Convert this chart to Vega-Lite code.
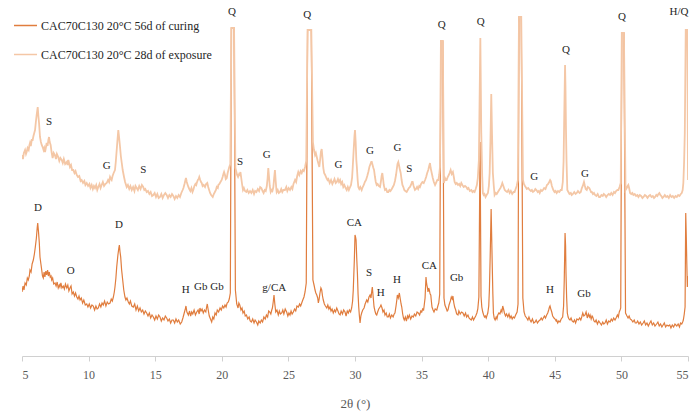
{
"$schema":"https://vega.github.io/schema/vega-lite/v6.json",
"width":666,"height":346,
"autosize":"none",
"padding":{"left":22,"top":10,"right":7,"bottom":58},
"background":"white",
"config":{"view":{"stroke":null},"font":"Liberation Serif"},
"datasets":{
"curing":[
{"theta":5.00,"intensity":64},{"theta":5.08,"intensity":70},{"theta":5.15,"intensity":66},{"theta":5.23,"intensity":73},{"theta":5.32,"intensity":71},{"theta":5.40,"intensity":78},{"theta":5.47,"intensity":76},{"theta":5.55,"intensity":80},{"theta":5.60,"intensity":86},{"theta":5.68,"intensity":84},{"theta":5.76,"intensity":92},{"theta":5.85,"intensity":96},{"theta":5.93,"intensity":102},{"theta":6.00,"intensity":109},{"theta":6.08,"intensity":118},{"theta":6.14,"intensity":128},{"theta":6.18,"intensity":133},{"theta":6.24,"intensity":124},{"theta":6.30,"intensity":113},{"theta":6.35,"intensity":99},{"theta":6.42,"intensity":92},{"theta":6.48,"intensity":86},{"theta":6.54,"intensity":80},{"theta":6.60,"intensity":78},{"theta":6.66,"intensity":84},{"theta":6.72,"intensity":79},{"theta":6.79,"intensity":85},{"theta":6.85,"intensity":81},{"theta":6.92,"intensity":86},{"theta":6.98,"intensity":80},{"theta":7.05,"intensity":84},{"theta":7.12,"intensity":79},{"theta":7.18,"intensity":80},{"theta":7.23,"intensity":76},{"theta":7.30,"intensity":78},{"theta":7.38,"intensity":72},{"theta":7.48,"intensity":73},{"theta":7.56,"intensity":70},{"theta":7.64,"intensity":74},{"theta":7.72,"intensity":68},{"theta":7.80,"intensity":71},{"theta":7.85,"intensity":69},{"theta":7.92,"intensity":73},{"theta":8.00,"intensity":68},{"theta":8.10,"intensity":70},{"theta":8.18,"intensity":67},{"theta":8.26,"intensity":72},{"theta":8.36,"intensity":68},{"theta":8.44,"intensity":71},{"theta":8.52,"intensity":65},{"theta":8.60,"intensity":68},{"theta":8.68,"intensity":70},{"theta":8.76,"intensity":62},{"theta":8.85,"intensity":64},{"theta":8.94,"intensity":60},{"theta":9.02,"intensity":63},{"theta":9.11,"intensity":59},{"theta":9.20,"intensity":57},{"theta":9.28,"intensity":60},{"theta":9.36,"intensity":56},{"theta":9.45,"intensity":58},{"theta":9.55,"intensity":53},{"theta":9.64,"intensity":56},{"theta":9.75,"intensity":51},{"theta":9.86,"intensity":52},{"theta":9.95,"intensity":49},{"theta":10.05,"intensity":52},{"theta":10.15,"intensity":48},{"theta":10.25,"intensity":51},{"theta":10.35,"intensity":50},{"theta":10.45,"intensity":46},{"theta":10.55,"intensity":50},{"theta":10.64,"intensity":47},{"theta":10.73,"intensity":48},{"theta":10.82,"intensity":52},{"theta":10.92,"intensity":49},{"theta":11.01,"intensity":53},{"theta":11.10,"intensity":51},{"theta":11.20,"intensity":55},{"theta":11.30,"intensity":50},{"theta":11.40,"intensity":54},{"theta":11.50,"intensity":52},{"theta":11.61,"intensity":53},{"theta":11.70,"intensity":57},{"theta":11.78,"intensity":55},{"theta":11.86,"intensity":59},{"theta":11.93,"intensity":64},{"theta":11.98,"intensity":69},{"theta":12.05,"intensity":78},{"theta":12.11,"intensity":89},{"theta":12.20,"intensity":101},{"theta":12.27,"intensity":108},{"theta":12.31,"intensity":111},{"theta":12.36,"intensity":104},{"theta":12.41,"intensity":99},{"theta":12.48,"intensity":86},{"theta":12.56,"intensity":76},{"theta":12.64,"intensity":66},{"theta":12.73,"intensity":59},{"theta":12.80,"intensity":56},{"theta":12.88,"intensity":58},{"theta":12.98,"intensity":54},{"theta":13.06,"intensity":52},{"theta":13.14,"intensity":55},{"theta":13.24,"intensity":50},{"theta":13.36,"intensity":49},{"theta":13.46,"intensity":52},{"theta":13.56,"intensity":46},{"theta":13.66,"intensity":50},{"theta":13.76,"intensity":45},{"theta":13.86,"intensity":48},{"theta":13.96,"intensity":44},{"theta":14.06,"intensity":46},{"theta":14.16,"intensity":42},{"theta":14.26,"intensity":45},{"theta":14.36,"intensity":43},{"theta":14.46,"intensity":40},{"theta":14.56,"intensity":43},{"theta":14.66,"intensity":38},{"theta":14.76,"intensity":41},{"theta":14.86,"intensity":39},{"theta":14.96,"intensity":36},{"theta":15.06,"intensity":40},{"theta":15.16,"intensity":37},{"theta":15.26,"intensity":41},{"theta":15.36,"intensity":39},{"theta":15.46,"intensity":35},{"theta":15.56,"intensity":38},{"theta":15.66,"intensity":36},{"theta":15.76,"intensity":40},{"theta":15.86,"intensity":38},{"theta":15.96,"intensity":35},{"theta":16.06,"intensity":37},{"theta":16.16,"intensity":33},{"theta":16.26,"intensity":36},{"theta":16.36,"intensity":36},{"theta":16.46,"intensity":33},{"theta":16.56,"intensity":37},{"theta":16.66,"intensity":34},{"theta":16.76,"intensity":36},{"theta":16.88,"intensity":32},{"theta":16.99,"intensity":34},{"theta":17.08,"intensity":38},{"theta":17.18,"intensity":43},{"theta":17.26,"intensity":47},{"theta":17.31,"intensity":50},{"theta":17.38,"intensity":44},{"theta":17.49,"intensity":41},{"theta":17.58,"intensity":45},{"theta":17.66,"intensity":40},{"theta":17.74,"intensity":44},{"theta":17.82,"intensity":42},{"theta":17.92,"intensity":46},{"theta":18.02,"intensity":41},{"theta":18.12,"intensity":44},{"theta":18.22,"intensity":46},{"theta":18.30,"intensity":42},{"theta":18.36,"intensity":48},{"theta":18.44,"intensity":45},{"theta":18.52,"intensity":47},{"theta":18.61,"intensity":43},{"theta":18.70,"intensity":46},{"theta":18.80,"intensity":44},{"theta":18.86,"intensity":49},{"theta":18.91,"intensity":52},{"theta":18.98,"intensity":46},{"theta":19.06,"intensity":40},{"theta":19.15,"intensity":37},{"theta":19.24,"intensity":34},{"theta":19.32,"intensity":39},{"theta":19.40,"intensity":37},{"theta":19.49,"intensity":43},{"theta":19.58,"intensity":41},{"theta":19.66,"intensity":46},{"theta":19.76,"intensity":44},{"theta":19.87,"intensity":48},{"theta":19.96,"intensity":46},{"theta":20.06,"intensity":50},{"theta":20.15,"intensity":48},{"theta":20.24,"intensity":51},{"theta":20.32,"intensity":49},{"theta":20.40,"intensity":53},{"theta":20.49,"intensity":54},{"theta":20.56,"intensity":57},{"theta":20.64,"intensity":63},{"theta":20.72,"intensity":328},{"theta":20.92,"intensity":328},{"theta":21.02,"intensity":66},{"theta":21.12,"intensity":52},{"theta":21.22,"intensity":48},{"theta":21.28,"intensity":53},{"theta":21.35,"intensity":51},{"theta":21.44,"intensity":46},{"theta":21.52,"intensity":48},{"theta":21.59,"intensity":43},{"theta":21.68,"intensity":45},{"theta":21.76,"intensity":40},{"theta":21.85,"intensity":41},{"theta":21.95,"intensity":37},{"theta":22.05,"intensity":39},{"theta":22.13,"intensity":35},{"theta":22.22,"intensity":34},{"theta":22.32,"intensity":37},{"theta":22.42,"intensity":33},{"theta":22.50,"intensity":36},{"theta":22.60,"intensity":34},{"theta":22.70,"intensity":31},{"theta":22.78,"intensity":35},{"theta":22.88,"intensity":33},{"theta":22.97,"intensity":36},{"theta":23.06,"intensity":34},{"theta":23.16,"intensity":39},{"theta":23.26,"intensity":37},{"theta":23.35,"intensity":41},{"theta":23.44,"intensity":39},{"theta":23.52,"intensity":45},{"theta":23.60,"intensity":44},{"theta":23.68,"intensity":42},{"theta":23.75,"intensity":46},{"theta":23.80,"intensity":48},{"theta":23.86,"intensity":54},{"theta":23.92,"intensity":61},{"theta":23.98,"intensity":52},{"theta":24.05,"intensity":44},{"theta":24.14,"intensity":46},{"theta":24.24,"intensity":41},{"theta":24.32,"intensity":45},{"theta":24.40,"intensity":42},{"theta":24.50,"intensity":43},{"theta":24.58,"intensity":46},{"theta":24.66,"intensity":42},{"theta":24.76,"intensity":47},{"theta":24.87,"intensity":44},{"theta":24.96,"intensity":40},{"theta":25.04,"intensity":43},{"theta":25.12,"intensity":41},{"theta":25.20,"intensity":45},{"theta":25.28,"intensity":42},{"theta":25.37,"intensity":44},{"theta":25.46,"intensity":47},{"theta":25.55,"intensity":45},{"theta":25.64,"intensity":50},{"theta":25.75,"intensity":49},{"theta":25.84,"intensity":52},{"theta":25.92,"intensity":50},{"theta":26.00,"intensity":53},{"theta":26.08,"intensity":56},{"theta":26.17,"intensity":59},{"theta":26.25,"intensity":64},{"theta":26.34,"intensity":73},{"theta":26.44,"intensity":326},{"theta":26.72,"intensity":326},{"theta":26.84,"intensity":76},{"theta":26.94,"intensity":70},{"theta":27.00,"intensity":66},{"theta":27.06,"intensity":63},{"theta":27.13,"intensity":61},{"theta":27.20,"intensity":58},{"theta":27.25,"intensity":53},{"theta":27.31,"intensity":57},{"theta":27.37,"intensity":63},{"theta":27.44,"intensity":68},{"theta":27.50,"intensity":66},{"theta":27.56,"intensity":60},{"theta":27.62,"intensity":56},{"theta":27.70,"intensity":52},{"theta":27.78,"intensity":50},{"theta":27.88,"intensity":48},{"theta":27.96,"intensity":51},{"theta":28.04,"intensity":47},{"theta":28.12,"intensity":49},{"theta":28.20,"intensity":45},{"theta":28.28,"intensity":47},{"theta":28.37,"intensity":43},{"theta":28.46,"intensity":46},{"theta":28.54,"intensity":44},{"theta":28.63,"intensity":48},{"theta":28.72,"intensity":45},{"theta":28.80,"intensity":42},{"theta":28.88,"intensity":41},{"theta":28.96,"intensity":45},{"theta":29.06,"intensity":42},{"theta":29.15,"intensity":46},{"theta":29.25,"intensity":44},{"theta":29.33,"intensity":40},{"theta":29.42,"intensity":45},{"theta":29.50,"intensity":43},{"theta":29.58,"intensity":46},{"theta":29.67,"intensity":44},{"theta":29.75,"intensity":48},{"theta":29.82,"intensity":55},{"theta":29.87,"intensity":66},{"theta":29.95,"intensity":96},{"theta":30.00,"intensity":121},{"theta":30.04,"intensity":119},{"theta":30.08,"intensity":116},{"theta":30.13,"intensity":98},{"theta":30.18,"intensity":83},{"theta":30.23,"intensity":62},{"theta":30.28,"intensity":49},{"theta":30.33,"intensity":40},{"theta":30.38,"intensity":33},{"theta":30.44,"intensity":40},{"theta":30.50,"intensity":43},{"theta":30.58,"intensity":46},{"theta":30.68,"intensity":48},{"theta":30.76,"intensity":52},{"theta":30.88,"intensity":56},{"theta":30.96,"intensity":54},{"theta":31.05,"intensity":59},{"theta":31.13,"intensity":61},{"theta":31.20,"intensity":58},{"theta":31.26,"intensity":65},{"theta":31.30,"intensity":69},{"theta":31.36,"intensity":60},{"theta":31.43,"intensity":49},{"theta":31.50,"intensity":45},{"theta":31.56,"intensity":42},{"theta":31.63,"intensity":41},{"theta":31.70,"intensity":44},{"theta":31.78,"intensity":47},{"theta":31.88,"intensity":49},{"theta":31.95,"intensity":51},{"theta":32.03,"intensity":48},{"theta":32.10,"intensity":44},{"theta":32.18,"intensity":46},{"theta":32.25,"intensity":41},{"theta":32.34,"intensity":43},{"theta":32.42,"intensity":39},{"theta":32.50,"intensity":39},{"theta":32.58,"intensity":42},{"theta":32.66,"intensity":38},{"theta":32.76,"intensity":41},{"theta":32.86,"intensity":39},{"theta":32.94,"intensity":42},{"theta":33.00,"intensity":43},{"theta":33.08,"intensity":50},{"theta":33.14,"intensity":56},{"theta":33.18,"intensity":61},{"theta":33.25,"intensity":58},{"theta":33.33,"intensity":63},{"theta":33.40,"intensity":57},{"theta":33.46,"intensity":52},{"theta":33.51,"intensity":49},{"theta":33.58,"intensity":42},{"theta":33.64,"intensity":38},{"theta":33.70,"intensity":36},{"theta":33.78,"intensity":39},{"theta":33.86,"intensity":35},{"theta":33.94,"intensity":40},{"theta":34.00,"intensity":38},{"theta":34.08,"intensity":41},{"theta":34.18,"intensity":37},{"theta":34.28,"intensity":40},{"theta":34.38,"intensity":39},{"theta":34.46,"intensity":42},{"theta":34.56,"intensity":40},{"theta":34.66,"intensity":44},{"theta":34.75,"intensity":43},{"theta":34.85,"intensity":41},{"theta":34.94,"intensity":45},{"theta":35.01,"intensity":44},{"theta":35.08,"intensity":47},{"theta":35.15,"intensity":46},{"theta":35.18,"intensity":49},{"theta":35.26,"intensity":58},{"theta":35.33,"intensity":79},{"theta":35.38,"intensity":72},{"theta":35.43,"intensity":69},{"theta":35.48,"intensity":64},{"theta":35.53,"intensity":68},{"theta":35.58,"intensity":66},{"theta":35.64,"intensity":62},{"theta":35.69,"intensity":61},{"theta":35.74,"intensity":54},{"theta":35.78,"intensity":49},{"theta":35.86,"intensity":46},{"theta":35.93,"intensity":44},{"theta":36.02,"intensity":47},{"theta":36.14,"intensity":46},{"theta":36.22,"intensity":50},{"theta":36.29,"intensity":53},{"theta":36.36,"intensity":62},{"theta":36.45,"intensity":315},{"theta":36.59,"intensity":315},{"theta":36.68,"intensity":58},{"theta":36.75,"intensity":51},{"theta":36.84,"intensity":48},{"theta":36.92,"intensity":45},{"theta":36.98,"intensity":46},{"theta":37.06,"intensity":51},{"theta":37.16,"intensity":55},{"theta":37.23,"intensity":59},{"theta":37.30,"intensity":57},{"theta":37.35,"intensity":60},{"theta":37.42,"intensity":53},{"theta":37.48,"intensity":49},{"theta":37.56,"intensity":46},{"theta":37.63,"intensity":42},{"theta":37.73,"intensity":41},{"theta":37.80,"intensity":45},{"theta":37.90,"intensity":42},{"theta":38.00,"intensity":44},{"theta":38.10,"intensity":43},{"theta":38.20,"intensity":40},{"theta":38.30,"intensity":43},{"theta":38.38,"intensity":39},{"theta":38.48,"intensity":41},{"theta":38.56,"intensity":38},{"theta":38.64,"intensity":37},{"theta":38.73,"intensity":36},{"theta":38.82,"intensity":39},{"theta":38.90,"intensity":36},{"theta":38.98,"intensity":38},{"theta":39.06,"intensity":40},{"theta":39.15,"intensity":43},{"theta":39.22,"intensity":47},{"theta":39.30,"intensity":59},{"theta":39.39,"intensity":214},{"theta":39.46,"intensity":60},{"theta":39.52,"intensity":49},{"theta":39.59,"intensity":44},{"theta":39.66,"intensity":41},{"theta":39.72,"intensity":39},{"theta":39.78,"intensity":40},{"theta":39.85,"intensity":38},{"theta":39.92,"intensity":41},{"theta":39.97,"intensity":43},{"theta":40.04,"intensity":50},{"theta":40.09,"intensity":66},{"theta":40.15,"intensity":100},{"theta":40.22,"intensity":147},{"theta":40.26,"intensity":120},{"theta":40.30,"intensity":93},{"theta":40.35,"intensity":62},{"theta":40.39,"intensity":43},{"theta":40.45,"intensity":38},{"theta":40.52,"intensity":36},{"theta":40.60,"intensity":39},{"theta":40.66,"intensity":37},{"theta":40.72,"intensity":41},{"theta":40.80,"intensity":43},{"theta":40.88,"intensity":42},{"theta":40.97,"intensity":46},{"theta":41.03,"intensity":44},{"theta":41.09,"intensity":50},{"theta":41.15,"intensity":47},{"theta":41.22,"intensity":43},{"theta":41.30,"intensity":40},{"theta":41.38,"intensity":42},{"theta":41.47,"intensity":39},{"theta":41.56,"intensity":42},{"theta":41.64,"intensity":38},{"theta":41.72,"intensity":40},{"theta":41.80,"intensity":37},{"theta":41.88,"intensity":39},{"theta":41.97,"intensity":38},{"theta":42.06,"intensity":41},{"theta":42.17,"intensity":44},{"theta":42.24,"intensity":52},{"theta":42.31,"intensity":339},{"theta":42.48,"intensity":339},{"theta":42.60,"intensity":58},{"theta":42.69,"intensity":44},{"theta":42.78,"intensity":40},{"theta":42.89,"intensity":38},{"theta":42.98,"intensity":36},{"theta":43.06,"intensity":39},{"theta":43.14,"intensity":36},{"theta":43.22,"intensity":34},{"theta":43.32,"intensity":37},{"theta":43.42,"intensity":33},{"theta":43.52,"intensity":34},{"theta":43.60,"intensity":36},{"theta":43.70,"intensity":33},{"theta":43.80,"intensity":35},{"theta":43.89,"intensity":36},{"theta":43.98,"intensity":38},{"theta":44.06,"intensity":36},{"theta":44.14,"intensity":38},{"theta":44.22,"intensity":40},{"theta":44.30,"intensity":38},{"theta":44.39,"intensity":41},{"theta":44.47,"intensity":43},{"theta":44.54,"intensity":46},{"theta":44.60,"intensity":49},{"theta":44.64,"intensity":50},{"theta":44.70,"intensity":47},{"theta":44.77,"intensity":44},{"theta":44.84,"intensity":40},{"theta":44.94,"intensity":38},{"theta":45.02,"intensity":37},{"theta":45.10,"intensity":35},{"theta":45.14,"intensity":36},{"theta":45.22,"intensity":33},{"theta":45.30,"intensity":35},{"theta":45.39,"intensity":34},{"theta":45.48,"intensity":37},{"theta":45.59,"intensity":39},{"theta":45.66,"intensity":50},{"theta":45.71,"intensity":76},{"theta":45.77,"intensity":123},{"theta":45.81,"intensity":110},{"theta":45.84,"intensity":83},{"theta":45.89,"intensity":58},{"theta":45.94,"intensity":43},{"theta":46.00,"intensity":39},{"theta":46.06,"intensity":37},{"theta":46.14,"intensity":36},{"theta":46.22,"intensity":38},{"theta":46.30,"intensity":35},{"theta":46.39,"intensity":34},{"theta":46.48,"intensity":36},{"theta":46.56,"intensity":33},{"theta":46.66,"intensity":37},{"theta":46.77,"intensity":36},{"theta":46.86,"intensity":38},{"theta":46.95,"intensity":36},{"theta":47.02,"intensity":39},{"theta":47.10,"intensity":43},{"theta":47.18,"intensity":40},{"theta":47.27,"intensity":41},{"theta":47.35,"intensity":44},{"theta":47.44,"intensity":38},{"theta":47.52,"intensity":42},{"theta":47.60,"intensity":39},{"theta":47.65,"intensity":41},{"theta":47.73,"intensity":37},{"theta":47.80,"intensity":40},{"theta":47.85,"intensity":39},{"theta":47.94,"intensity":35},{"theta":48.02,"intensity":34},{"theta":48.10,"intensity":36},{"theta":48.20,"intensity":32},{"theta":48.30,"intensity":35},{"theta":48.40,"intensity":33},{"theta":48.50,"intensity":31},{"theta":48.60,"intensity":34},{"theta":48.68,"intensity":32},{"theta":48.77,"intensity":33},{"theta":48.86,"intensity":36},{"theta":48.95,"intensity":32},{"theta":49.05,"intensity":35},{"theta":49.15,"intensity":34},{"theta":49.24,"intensity":37},{"theta":49.33,"intensity":35},{"theta":49.42,"intensity":38},{"theta":49.52,"intensity":36},{"theta":49.60,"intensity":38},{"theta":49.70,"intensity":41},{"theta":49.77,"intensity":39},{"theta":49.84,"intensity":44},{"theta":49.90,"intensity":46},{"theta":49.95,"intensity":48},{"theta":50.03,"intensity":323},{"theta":50.19,"intensity":323},{"theta":50.31,"intensity":43},{"theta":50.42,"intensity":40},{"theta":50.50,"intensity":38},{"theta":50.58,"intensity":40},{"theta":50.66,"intensity":37},{"theta":50.76,"intensity":36},{"theta":50.86,"intensity":34},{"theta":50.96,"intensity":36},{"theta":51.04,"intensity":33},{"theta":51.13,"intensity":33},{"theta":51.22,"intensity":35},{"theta":51.32,"intensity":32},{"theta":51.42,"intensity":34},{"theta":51.52,"intensity":31},{"theta":51.63,"intensity":33},{"theta":51.72,"intensity":35},{"theta":51.82,"intensity":31},{"theta":51.92,"intensity":33},{"theta":52.02,"intensity":30},{"theta":52.13,"intensity":33},{"theta":52.22,"intensity":35},{"theta":52.32,"intensity":31},{"theta":52.42,"intensity":33},{"theta":52.52,"intensity":30},{"theta":52.64,"intensity":32},{"theta":52.74,"intensity":34},{"theta":52.84,"intensity":30},{"theta":52.94,"intensity":32},{"theta":53.04,"intensity":29},{"theta":53.13,"intensity":31},{"theta":53.22,"intensity":33},{"theta":53.32,"intensity":29},{"theta":53.42,"intensity":31},{"theta":53.52,"intensity":30},{"theta":53.63,"intensity":31},{"theta":53.72,"intensity":28},{"theta":53.82,"intensity":31},{"theta":53.92,"intensity":29},{"theta":54.02,"intensity":32},{"theta":54.16,"intensity":30},{"theta":54.26,"intensity":32},{"theta":54.36,"intensity":29},{"theta":54.44,"intensity":33},{"theta":54.53,"intensity":32},{"theta":54.60,"intensity":34},{"theta":54.65,"intensity":36},{"theta":54.72,"intensity":42},{"theta":54.78,"intensity":49},{"theta":54.83,"intensity":143},{"theta":54.87,"intensity":120},{"theta":54.91,"intensity":93},{"theta":54.95,"intensity":69},{"theta":55.00,"intensity":80}
],
"exposure":[
{"theta":5.00,"intensity":201},{"theta":5.07,"intensity":197},{"theta":5.14,"intensity":203},{"theta":5.23,"intensity":206},{"theta":5.30,"intensity":202},{"theta":5.35,"intensity":204},{"theta":5.42,"intensity":208},{"theta":5.50,"intensity":206},{"theta":5.56,"intensity":211},{"theta":5.60,"intensity":213},{"theta":5.66,"intensity":210},{"theta":5.73,"intensity":216},{"theta":5.80,"intensity":216},{"theta":5.86,"intensity":220},{"theta":5.92,"intensity":223},{"theta":5.98,"intensity":226},{"theta":6.04,"intensity":234},{"theta":6.10,"intensity":241},{"theta":6.15,"intensity":246},{"theta":6.18,"intensity":249},{"theta":6.23,"intensity":240},{"theta":6.28,"intensity":233},{"theta":6.35,"intensity":219},{"theta":6.42,"intensity":214},{"theta":6.48,"intensity":211},{"theta":6.55,"intensity":209},{"theta":6.62,"intensity":206},{"theta":6.67,"intensity":208},{"theta":6.73,"intensity":204},{"theta":6.80,"intensity":209},{"theta":6.85,"intensity":213},{"theta":6.92,"intensity":210},{"theta":6.98,"intensity":216},{"theta":7.03,"intensity":219},{"theta":7.08,"intensity":214},{"theta":7.15,"intensity":211},{"theta":7.22,"intensity":204},{"theta":7.30,"intensity":198},{"theta":7.38,"intensity":203},{"theta":7.47,"intensity":201},{"theta":7.55,"intensity":197},{"theta":7.62,"intensity":202},{"theta":7.72,"intensity":199},{"theta":7.80,"intensity":195},{"theta":7.88,"intensity":198},{"theta":7.98,"intensity":196},{"theta":8.06,"intensity":193},{"theta":8.14,"intensity":197},{"theta":8.24,"intensity":192},{"theta":8.36,"intensity":194},{"theta":8.42,"intensity":191},{"theta":8.48,"intensity":196},{"theta":8.55,"intensity":192},{"theta":8.60,"intensity":189},{"theta":8.68,"intensity":191},{"theta":8.76,"intensity":186},{"theta":8.85,"intensity":186},{"theta":8.94,"intensity":183},{"theta":9.02,"intensity":185},{"theta":9.11,"intensity":181},{"theta":9.20,"intensity":179},{"theta":9.30,"intensity":180},{"theta":9.40,"intensity":175},{"theta":9.48,"intensity":176},{"theta":9.58,"intensity":173},{"theta":9.68,"intensity":175},{"theta":9.76,"intensity":171},{"theta":9.86,"intensity":173},{"theta":9.96,"intensity":170},{"theta":10.06,"intensity":172},{"theta":10.14,"intensity":168},{"theta":10.23,"intensity":171},{"theta":10.32,"intensity":167},{"theta":10.40,"intensity":170},{"theta":10.48,"intensity":168},{"theta":10.57,"intensity":171},{"theta":10.65,"intensity":166},{"theta":10.73,"intensity":169},{"theta":10.82,"intensity":172},{"theta":10.90,"intensity":168},{"theta":10.98,"intensity":171},{"theta":11.07,"intensity":174},{"theta":11.16,"intensity":170},{"theta":11.26,"intensity":172},{"theta":11.36,"intensity":173},{"theta":11.46,"intensity":176},{"theta":11.54,"intensity":174},{"theta":11.61,"intensity":179},{"theta":11.68,"intensity":177},{"theta":11.73,"intensity":176},{"theta":11.80,"intensity":180},{"theta":11.88,"intensity":183},{"theta":11.98,"intensity":186},{"theta":12.04,"intensity":194},{"theta":12.11,"intensity":206},{"theta":12.18,"intensity":218},{"theta":12.23,"intensity":226},{"theta":12.28,"intensity":220},{"theta":12.36,"intensity":209},{"theta":12.42,"intensity":200},{"theta":12.49,"intensity":193},{"theta":12.56,"intensity":186},{"theta":12.66,"intensity":179},{"theta":12.74,"intensity":174},{"theta":12.86,"intensity":169},{"theta":12.95,"intensity":171},{"theta":13.05,"intensity":167},{"theta":13.14,"intensity":170},{"theta":13.24,"intensity":166},{"theta":13.34,"intensity":169},{"theta":13.44,"intensity":165},{"theta":13.52,"intensity":170},{"theta":13.61,"intensity":168},{"theta":13.70,"intensity":166},{"theta":13.80,"intensity":170},{"theta":13.90,"intensity":167},{"theta":14.00,"intensity":171},{"theta":14.10,"intensity":169},{"theta":14.18,"intensity":166},{"theta":14.26,"intensity":167},{"theta":14.36,"intensity":164},{"theta":14.46,"intensity":165},{"theta":14.56,"intensity":162},{"theta":14.66,"intensity":164},{"theta":14.76,"intensity":160},{"theta":14.86,"intensity":161},{"theta":14.96,"intensity":163},{"theta":15.06,"intensity":159},{"theta":15.16,"intensity":162},{"theta":15.26,"intensity":158},{"theta":15.36,"intensity":159},{"theta":15.46,"intensity":162},{"theta":15.56,"intensity":158},{"theta":15.66,"intensity":161},{"theta":15.76,"intensity":163},{"theta":15.86,"intensity":161},{"theta":15.96,"intensity":158},{"theta":16.06,"intensity":161},{"theta":16.16,"intensity":159},{"theta":16.26,"intensity":162},{"theta":16.36,"intensity":160},{"theta":16.46,"intensity":157},{"theta":16.56,"intensity":160},{"theta":16.66,"intensity":158},{"theta":16.76,"intensity":161},{"theta":16.86,"intensity":159},{"theta":16.96,"intensity":163},{"theta":17.06,"intensity":166},{"theta":17.12,"intensity":168},{"theta":17.20,"intensity":172},{"theta":17.27,"intensity":176},{"theta":17.31,"intensity":178},{"theta":17.37,"intensity":174},{"theta":17.44,"intensity":171},{"theta":17.49,"intensity":169},{"theta":17.56,"intensity":167},{"theta":17.64,"intensity":165},{"theta":17.72,"intensity":168},{"theta":17.80,"intensity":164},{"theta":17.86,"intensity":166},{"theta":17.94,"intensity":170},{"theta":18.02,"intensity":172},{"theta":18.08,"intensity":171},{"theta":18.12,"intensity":173},{"theta":18.20,"intensity":176},{"theta":18.26,"intensity":177},{"theta":18.31,"intensity":179},{"theta":18.38,"intensity":176},{"theta":18.44,"intensity":174},{"theta":18.49,"intensity":173},{"theta":18.56,"intensity":170},{"theta":18.64,"intensity":171},{"theta":18.74,"intensity":169},{"theta":18.82,"intensity":172},{"theta":18.91,"intensity":173},{"theta":18.98,"intensity":169},{"theta":19.05,"intensity":166},{"theta":19.12,"intensity":163},{"theta":19.20,"intensity":161},{"theta":19.26,"intensity":160},{"theta":19.32,"intensity":159},{"theta":19.40,"intensity":162},{"theta":19.48,"intensity":164},{"theta":19.56,"intensity":166},{"theta":19.62,"intensity":169},{"theta":19.70,"intensity":168},{"theta":19.74,"intensity":171},{"theta":19.82,"intensity":172},{"theta":19.90,"intensity":174},{"theta":19.99,"intensity":176},{"theta":20.06,"intensity":179},{"theta":20.12,"intensity":182},{"theta":20.17,"intensity":184},{"theta":20.24,"intensity":181},{"theta":20.30,"intensity":177},{"theta":20.37,"intensity":178},{"theta":20.44,"intensity":183},{"theta":20.50,"intensity":186},{"theta":20.56,"intensity":189},{"theta":20.64,"intensity":192},{"theta":20.72,"intensity":328},{"theta":20.92,"intensity":328},{"theta":21.02,"intensity":188},{"theta":21.15,"intensity":181},{"theta":21.22,"intensity":179},{"theta":21.30,"intensity":182},{"theta":21.36,"intensity":181},{"theta":21.40,"intensity":184},{"theta":21.46,"intensity":178},{"theta":21.52,"intensity":172},{"theta":21.59,"intensity":166},{"theta":21.66,"intensity":168},{"theta":21.74,"intensity":165},{"theta":21.84,"intensity":164},{"theta":21.92,"intensity":166},{"theta":22.02,"intensity":163},{"theta":22.12,"intensity":165},{"theta":22.22,"intensity":163},{"theta":22.32,"intensity":166},{"theta":22.42,"intensity":162},{"theta":22.50,"intensity":165},{"theta":22.60,"intensity":164},{"theta":22.70,"intensity":167},{"theta":22.80,"intensity":165},{"theta":22.88,"intensity":169},{"theta":22.97,"intensity":168},{"theta":23.06,"intensity":165},{"theta":23.14,"intensity":163},{"theta":23.22,"intensity":166},{"theta":23.30,"intensity":165},{"theta":23.38,"intensity":170},{"theta":23.44,"intensity":178},{"theta":23.49,"intensity":188},{"theta":23.54,"intensity":180},{"theta":23.60,"intensity":170},{"theta":23.67,"intensity":164},{"theta":23.74,"intensity":166},{"theta":23.80,"intensity":165},{"theta":23.87,"intensity":169},{"theta":23.93,"intensity":178},{"theta":23.99,"intensity":186},{"theta":24.04,"intensity":176},{"theta":24.10,"intensity":166},{"theta":24.12,"intensity":164},{"theta":24.20,"intensity":166},{"theta":24.28,"intensity":163},{"theta":24.37,"intensity":164},{"theta":24.46,"intensity":167},{"theta":24.54,"intensity":164},{"theta":24.62,"intensity":166},{"theta":24.74,"intensity":166},{"theta":24.84,"intensity":169},{"theta":24.92,"intensity":165},{"theta":25.02,"intensity":168},{"theta":25.12,"intensity":166},{"theta":25.22,"intensity":169},{"theta":25.30,"intensity":167},{"theta":25.38,"intensity":172},{"theta":25.50,"intensity":176},{"theta":25.58,"intensity":174},{"theta":25.66,"intensity":180},{"theta":25.74,"intensity":184},{"theta":25.82,"intensity":181},{"theta":25.92,"intensity":185},{"theta":26.00,"intensity":183},{"theta":26.08,"intensity":186},{"theta":26.16,"intensity":185},{"theta":26.25,"intensity":189},{"theta":26.34,"intensity":195},{"theta":26.44,"intensity":326},{"theta":26.72,"intensity":326},{"theta":26.84,"intensity":214},{"theta":26.92,"intensity":206},{"theta":27.00,"intensity":201},{"theta":27.06,"intensity":203},{"theta":27.13,"intensity":199},{"theta":27.20,"intensity":195},{"theta":27.28,"intensity":191},{"theta":27.32,"intensity":189},{"theta":27.38,"intensity":196},{"theta":27.44,"intensity":204},{"theta":27.50,"intensity":207},{"theta":27.56,"intensity":198},{"theta":27.62,"intensity":188},{"theta":27.68,"intensity":183},{"theta":27.76,"intensity":181},{"theta":27.86,"intensity":178},{"theta":27.94,"intensity":176},{"theta":28.00,"intensity":177},{"theta":28.10,"intensity":173},{"theta":28.20,"intensity":176},{"theta":28.30,"intensity":172},{"theta":28.37,"intensity":174},{"theta":28.46,"intensity":177},{"theta":28.55,"intensity":173},{"theta":28.63,"intensity":174},{"theta":28.72,"intensity":177},{"theta":28.80,"intensity":174},{"theta":28.88,"intensity":176},{"theta":28.96,"intensity":172},{"theta":29.04,"intensity":174},{"theta":29.12,"intensity":169},{"theta":29.20,"intensity":171},{"theta":29.30,"intensity":168},{"theta":29.38,"intensity":166},{"theta":29.46,"intensity":169},{"theta":29.54,"intensity":166},{"theta":29.63,"intensity":169},{"theta":29.70,"intensity":171},{"theta":29.78,"intensity":178},{"theta":29.83,"intensity":189},{"theta":29.90,"intensity":206},{"theta":29.96,"intensity":220},{"theta":30.00,"intensity":226},{"theta":30.05,"intensity":214},{"theta":30.10,"intensity":196},{"theta":30.14,"intensity":189},{"theta":30.20,"intensity":176},{"theta":30.25,"intensity":169},{"theta":30.32,"intensity":167},{"theta":30.40,"intensity":169},{"theta":30.50,"intensity":166},{"theta":30.58,"intensity":169},{"theta":30.66,"intensity":171},{"theta":30.74,"intensity":174},{"theta":30.83,"intensity":176},{"theta":30.92,"intensity":180},{"theta":31.00,"intensity":184},{"theta":31.08,"intensity":189},{"theta":31.16,"intensity":192},{"theta":31.22,"intensity":194},{"theta":31.26,"intensity":194},{"theta":31.32,"intensity":191},{"theta":31.38,"intensity":188},{"theta":31.43,"intensity":186},{"theta":31.50,"intensity":179},{"theta":31.56,"intensity":174},{"theta":31.63,"intensity":171},{"theta":31.70,"intensity":172},{"theta":31.78,"intensity":170},{"theta":31.88,"intensity":169},{"theta":31.95,"intensity":175},{"theta":32.00,"intensity":180},{"theta":32.05,"intensity":183},{"theta":32.10,"intensity":178},{"theta":32.16,"intensity":171},{"theta":32.25,"intensity":166},{"theta":32.34,"intensity":167},{"theta":32.42,"intensity":164},{"theta":32.50,"intensity":164},{"theta":32.58,"intensity":166},{"theta":32.66,"intensity":165},{"theta":32.76,"intensity":167},{"theta":32.84,"intensity":169},{"theta":32.92,"intensity":171},{"theta":33.00,"intensity":175},{"theta":33.08,"intensity":181},{"theta":33.13,"intensity":186},{"theta":33.19,"intensity":192},{"theta":33.25,"intensity":194},{"theta":33.30,"intensity":191},{"theta":33.36,"intensity":187},{"theta":33.43,"intensity":183},{"theta":33.50,"intensity":176},{"theta":33.56,"intensity":171},{"theta":33.63,"intensity":169},{"theta":33.70,"intensity":166},{"theta":33.78,"intensity":165},{"theta":33.88,"intensity":164},{"theta":33.96,"intensity":166},{"theta":34.04,"intensity":168},{"theta":34.13,"intensity":169},{"theta":34.20,"intensity":171},{"theta":34.28,"intensity":174},{"theta":34.33,"intensity":174},{"theta":34.40,"intensity":170},{"theta":34.50,"intensity":166},{"theta":34.58,"intensity":167},{"theta":34.66,"intensity":169},{"theta":34.74,"intensity":167},{"theta":34.82,"intensity":170},{"theta":34.88,"intensity":169},{"theta":34.96,"intensity":172},{"theta":35.06,"intensity":174},{"theta":35.16,"intensity":173},{"theta":35.26,"intensity":176},{"theta":35.34,"intensity":179},{"theta":35.42,"intensity":183},{"theta":35.50,"intensity":186},{"theta":35.57,"intensity":190},{"theta":35.63,"intensity":193},{"theta":35.68,"intensity":188},{"theta":35.76,"intensity":183},{"theta":35.84,"intensity":178},{"theta":35.92,"intensity":174},{"theta":36.01,"intensity":171},{"theta":36.08,"intensity":173},{"theta":36.18,"intensity":176},{"theta":36.26,"intensity":176},{"theta":36.32,"intensity":181},{"theta":36.38,"intensity":189},{"theta":36.45,"intensity":315},{"theta":36.59,"intensity":315},{"theta":36.68,"intensity":173},{"theta":36.75,"intensity":178},{"theta":36.82,"intensity":176},{"theta":36.88,"intensity":176},{"theta":36.96,"intensity":179},{"theta":37.04,"intensity":181},{"theta":37.10,"intensity":183},{"theta":37.18,"intensity":186},{"theta":37.26,"intensity":182},{"theta":37.35,"intensity":184},{"theta":37.42,"intensity":179},{"theta":37.48,"intensity":174},{"theta":37.56,"intensity":172},{"theta":37.64,"intensity":173},{"theta":37.73,"intensity":171},{"theta":37.82,"intensity":172},{"theta":37.90,"intensity":170},{"theta":37.98,"intensity":173},{"theta":38.06,"intensity":171},{"theta":38.16,"intensity":169},{"theta":38.26,"intensity":170},{"theta":38.36,"intensity":169},{"theta":38.44,"intensity":167},{"theta":38.52,"intensity":168},{"theta":38.62,"intensity":165},{"theta":38.73,"intensity":166},{"theta":38.82,"intensity":164},{"theta":38.90,"intensity":165},{"theta":38.98,"intensity":164},{"theta":39.06,"intensity":167},{"theta":39.15,"intensity":171},{"theta":39.22,"intensity":178},{"theta":39.30,"intensity":196},{"theta":39.41,"intensity":318},{"theta":39.48,"intensity":223},{"theta":39.55,"intensity":180},{"theta":39.60,"intensity":163},{"theta":39.66,"intensity":161},{"theta":39.72,"intensity":162},{"theta":39.80,"intensity":159},{"theta":39.88,"intensity":161},{"theta":39.98,"intensity":163},{"theta":40.05,"intensity":170},{"theta":40.11,"intensity":183},{"theta":40.17,"intensity":215},{"theta":40.23,"intensity":262},{"theta":40.29,"intensity":220},{"theta":40.35,"intensity":183},{"theta":40.42,"intensity":170},{"theta":40.48,"intensity":161},{"theta":40.56,"intensity":163},{"theta":40.64,"intensity":162},{"theta":40.73,"intensity":164},{"theta":40.82,"intensity":166},{"theta":40.92,"intensity":168},{"theta":40.99,"intensity":170},{"theta":41.06,"intensity":173},{"theta":41.14,"intensity":170},{"theta":41.24,"intensity":166},{"theta":41.32,"intensity":165},{"theta":41.42,"intensity":164},{"theta":41.52,"intensity":166},{"theta":41.61,"intensity":163},{"theta":41.70,"intensity":165},{"theta":41.80,"intensity":162},{"theta":41.90,"intensity":164},{"theta":41.98,"intensity":164},{"theta":42.06,"intensity":167},{"theta":42.14,"intensity":170},{"theta":42.23,"intensity":176},{"theta":42.31,"intensity":339},{"theta":42.48,"intensity":339},{"theta":42.61,"intensity":176},{"theta":42.68,"intensity":172},{"theta":42.76,"intensity":170},{"theta":42.81,"intensity":169},{"theta":42.90,"intensity":167},{"theta":43.00,"intensity":168},{"theta":43.11,"intensity":166},{"theta":43.20,"intensity":165},{"theta":43.28,"intensity":166},{"theta":43.36,"intensity":164},{"theta":43.46,"intensity":165},{"theta":43.54,"intensity":167},{"theta":43.62,"intensity":166},{"theta":43.72,"intensity":164},{"theta":43.80,"intensity":165},{"theta":43.87,"intensity":163},{"theta":43.96,"intensity":166},{"theta":44.04,"intensity":165},{"theta":44.11,"intensity":166},{"theta":44.20,"intensity":168},{"theta":44.30,"intensity":167},{"theta":44.41,"intensity":171},{"theta":44.50,"intensity":172},{"theta":44.58,"intensity":174},{"theta":44.65,"intensity":176},{"theta":44.70,"intensity":175},{"theta":44.78,"intensity":170},{"theta":44.89,"intensity":166},{"theta":44.98,"intensity":164},{"theta":45.06,"intensity":165},{"theta":45.14,"intensity":163},{"theta":45.24,"intensity":165},{"theta":45.34,"intensity":164},{"theta":45.44,"intensity":166},{"theta":45.52,"intensity":166},{"theta":45.60,"intensity":174},{"theta":45.66,"intensity":195},{"theta":45.70,"intensity":232},{"theta":45.77,"intensity":291},{"theta":45.80,"intensity":270},{"theta":45.84,"intensity":226},{"theta":45.88,"intensity":195},{"theta":45.94,"intensity":166},{"theta":46.02,"intensity":164},{"theta":46.10,"intensity":162},{"theta":46.20,"intensity":163},{"theta":46.27,"intensity":161},{"theta":46.36,"intensity":162},{"theta":46.46,"intensity":164},{"theta":46.56,"intensity":162},{"theta":46.65,"intensity":163},{"theta":46.74,"intensity":165},{"theta":46.86,"intensity":163},{"theta":46.95,"intensity":164},{"theta":47.03,"intensity":168},{"theta":47.10,"intensity":170},{"theta":47.19,"intensity":174},{"theta":47.26,"intensity":170},{"theta":47.32,"intensity":167},{"theta":47.40,"intensity":166},{"theta":47.48,"intensity":169},{"theta":47.59,"intensity":168},{"theta":47.66,"intensity":166},{"theta":47.72,"intensity":164},{"theta":47.78,"intensity":164},{"theta":47.86,"intensity":162},{"theta":47.94,"intensity":163},{"theta":48.02,"intensity":161},{"theta":48.12,"intensity":160},{"theta":48.22,"intensity":162},{"theta":48.32,"intensity":159},{"theta":48.40,"intensity":159},{"theta":48.50,"intensity":161},{"theta":48.60,"intensity":160},{"theta":48.68,"intensity":162},{"theta":48.77,"intensity":161},{"theta":48.86,"intensity":159},{"theta":48.96,"intensity":161},{"theta":49.05,"intensity":162},{"theta":49.15,"intensity":161},{"theta":49.24,"intensity":163},{"theta":49.34,"intensity":161},{"theta":49.44,"intensity":164},{"theta":49.52,"intensity":163},{"theta":49.60,"intensity":165},{"theta":49.70,"intensity":166},{"theta":49.77,"intensity":166},{"theta":49.86,"intensity":169},{"theta":49.95,"intensity":173},{"theta":50.03,"intensity":323},{"theta":50.19,"intensity":323},{"theta":50.31,"intensity":166},{"theta":50.40,"intensity":168},{"theta":50.47,"intensity":170},{"theta":50.52,"intensity":171},{"theta":50.58,"intensity":168},{"theta":50.65,"intensity":163},{"theta":50.74,"intensity":162},{"theta":50.82,"intensity":163},{"theta":50.90,"intensity":161},{"theta":51.00,"intensity":162},{"theta":51.10,"intensity":160},{"theta":51.20,"intensity":161},{"theta":51.28,"intensity":159},{"theta":51.38,"intensity":161},{"theta":51.48,"intensity":160},{"theta":51.58,"intensity":158},{"theta":51.66,"intensity":159},{"theta":51.76,"intensity":161},{"theta":51.86,"intensity":160},{"theta":51.96,"intensity":158},{"theta":52.06,"intensity":160},{"theta":52.16,"intensity":161},{"theta":52.26,"intensity":159},{"theta":52.36,"intensity":160},{"theta":52.45,"intensity":158},{"theta":52.53,"intensity":159},{"theta":52.62,"intensity":161},{"theta":52.70,"intensity":160},{"theta":52.78,"intensity":162},{"theta":52.85,"intensity":163},{"theta":52.92,"intensity":161},{"theta":53.00,"intensity":160},{"theta":53.08,"intensity":158},{"theta":53.16,"intensity":159},{"theta":53.26,"intensity":161},{"theta":53.36,"intensity":159},{"theta":53.46,"intensity":160},{"theta":53.56,"intensity":158},{"theta":53.66,"intensity":161},{"theta":53.76,"intensity":159},{"theta":53.86,"intensity":160},{"theta":53.96,"intensity":158},{"theta":54.06,"intensity":160},{"theta":54.16,"intensity":159},{"theta":54.26,"intensity":161},{"theta":54.36,"intensity":160},{"theta":54.46,"intensity":162},{"theta":54.53,"intensity":163},{"theta":54.60,"intensity":166},{"theta":54.65,"intensity":173},{"theta":54.71,"intensity":195},{"theta":54.76,"intensity":223},{"theta":54.83,"intensity":326},{"theta":54.95,"intensity":326},{"theta":55.00,"intensity":176}
],
"labels":[
{"theta":20.77,"intensity":344,"label":"Q"},{"theta":7.03,"intensity":234,"label":"S"},{"theta":11.36,"intensity":190,"label":"G"},{"theta":14.11,"intensity":186,"label":"S"},{"theta":21.37,"intensity":194,"label":"S"},{"theta":23.37,"intensity":201,"label":"G"},{"theta":26.42,"intensity":341,"label":"Q"},{"theta":28.75,"intensity":191,"label":"G"},{"theta":31.13,"intensity":205,"label":"G"},{"theta":33.18,"intensity":208,"label":"G"},{"theta":34.08,"intensity":187,"label":"S"},{"theta":36.51,"intensity":331,"label":"Q"},{"theta":39.44,"intensity":334,"label":"Q"},{"theta":43.46,"intensity":179,"label":"G"},{"theta":45.84,"intensity":306,"label":"Q"},{"theta":47.27,"intensity":182,"label":"G"},{"theta":50.05,"intensity":339,"label":"Q"},{"theta":54.33,"intensity":344,"label":"H/Q"},
{"theta":6.20,"intensity":148,"label":"D"},{"theta":8.66,"intensity":85,"label":"O"},{"theta":12.28,"intensity":131,"label":"D"},{"theta":17.29,"intensity":66,"label":"H"},{"theta":18.42,"intensity":69,"label":"Gb"},{"theta":19.64,"intensity":69,"label":"Gb"},{"theta":23.94,"intensity":68,"label":"g/CA"},{"theta":29.95,"intensity":133,"label":"CA"},{"theta":31.05,"intensity":83,"label":"S"},{"theta":31.93,"intensity":63,"label":"H"},{"theta":33.15,"intensity":76,"label":"H"},{"theta":35.58,"intensity":90,"label":"CA"},{"theta":37.63,"intensity":78,"label":"Gb"},{"theta":44.64,"intensity":66,"label":"H"},{"theta":47.19,"intensity":62,"label":"Gb"}
]
},
"layer":[
{"data":{"name":"curing"},
 "mark":{"type":"line","strokeWidth":1.2,"clip":true,"interpolate":"linear"},
 "encoding":{
  "x":{"field":"theta","type":"quantitative","scale":{"domain":[5,55],"nice":false,"zero":false},
   "axis":{"values":[5,10,15,20,25,30,35,40,45,50,55],"grid":false,"title":"2θ (°)","labelFont":"Liberation Serif","labelFontSize":12,"labelColor":"#595959","domainColor":"#d0d0d0","tickColor":"#d0d0d0","tickSize":5,"labelPadding":8,"titleFont":"Liberation Serif","titleFontSize":13,"titleFontWeight":"normal","titleColor":"#595959","titlePadding":17}},
  "y":{"field":"intensity","type":"quantitative","scale":{"domain":[0,346],"nice":false,"zero":true},"axis":null},
  "color":{"datum":"CAC70C130 20°C 56d of curing","type":"nominal",
   "scale":{"domain":["CAC70C130 20°C 56d of curing","CAC70C130 20°C 28d of exposure"],"range":["#E07D3E","#F4C7A6"]},
   "legend":{"orient":"none","legendX":-9,"legendY":3,"title":null,"symbolType":"stroke","symbolSize":529,"symbolStrokeWidth":1.5,"labelFont":"Liberation Serif","labelFontSize":12,"labelColor":"#262626","labelOffset":3,"rowPadding":10,"labelLimit":400}}
 }},
{"data":{"name":"exposure"},
 "mark":{"type":"line","strokeWidth":1.8,"clip":true,"interpolate":"linear"},
 "encoding":{
  "x":{"field":"theta","type":"quantitative"},
  "y":{"field":"intensity","type":"quantitative"},
  "color":{"datum":"CAC70C130 20°C 28d of exposure","type":"nominal"}
 }},
{"data":{"name":"labels"},
 "mark":{"type":"text","font":"Liberation Serif","fontSize":11,"color":"#262626","align":"center","baseline":"middle"},
 "encoding":{
  "x":{"field":"theta","type":"quantitative"},
  "y":{"field":"intensity","type":"quantitative"},
  "text":{"field":"label","type":"nominal"}
 }}
]
}
